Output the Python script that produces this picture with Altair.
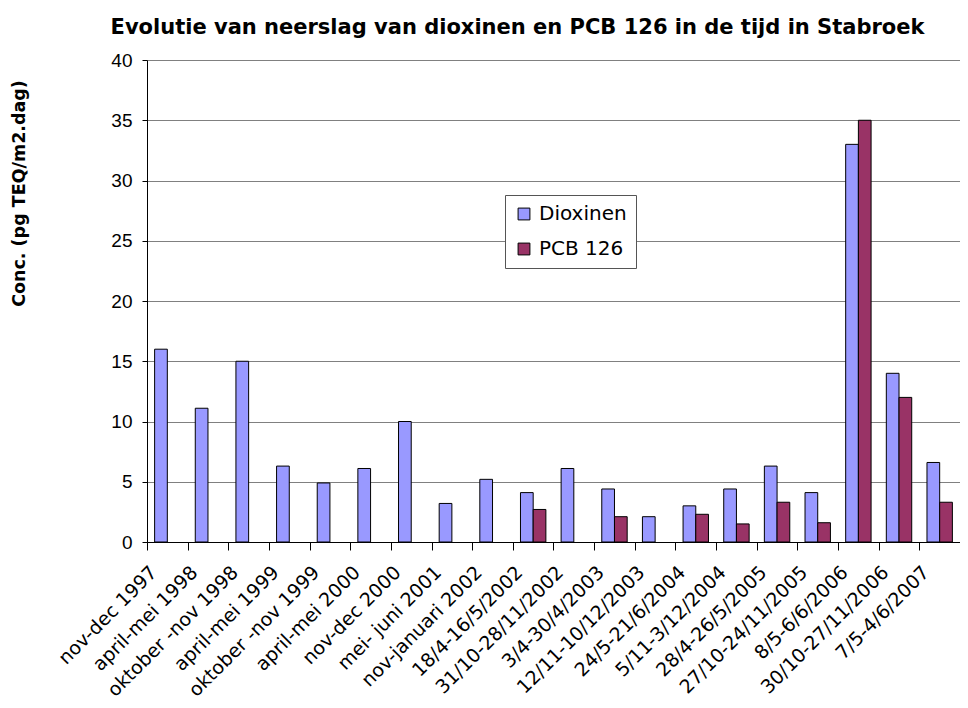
import altair as alt
import pandas as pd

categories = [
    "nov-dec 1997", "april-mei 1998", "oktober -nov 1998", "april-mei 1999",
    "oktober -nov 1999", "april-mei 2000", "nov-dec 2000", "mei- juni 2001",
    "nov-januari 2002", "18/4-16/5/2002", "31/10-28/11/2002", "3/4-30/4/2003",
    "12/11-10/12/2003", "24/5-21/6/2004", "5/11-3/12/2004", "28/4-26/5/2005",
    "27/10-24/11/2005", "8/5-6/6/2006", "30/10-27/11/2006", "7/5-4/6/2007",
]
dioxinen = [16.0, 11.1, 15.0, 6.3, 4.9, 6.1, 10.0, 3.2, 5.2, 4.1,
            6.1, 4.4, 2.1, 3.0, 4.4, 6.3, 4.1, 33.0, 14.0, 6.6]
pcb126 = [None, None, None, None, None, None, None, None, None, 2.7,
          None, 2.1, None, 2.3, 1.5, 3.3, 1.6, 35.0, 12.0, 3.3]
series = ["Dioxinen", "PCB 126"]
colors = ["#9999FF", "#993366"]

rows = []
for c, d, p in zip(categories, dioxinen, pcb126):
    if d is not None:
        rows.append({"periode": c, "reeks": series[0], "waarde": d})
    if p is not None:
        rows.append({"periode": c, "reeks": series[1], "waarde": p})
df = pd.DataFrame(rows)

FONT = "Liberation Sans"
WIDE = "DejaVu Sans"

chart = alt.Chart(df).mark_bar(stroke="black", strokeWidth=1).encode(
    x=alt.X("periode:N", sort=categories,
            scale=alt.Scale(domain=categories, paddingInner=0, paddingOuter=0),
            axis=alt.Axis(title=None, labelAngle=-45, labelAlign="right",
                          labelBaseline="middle", labelFontSize=19,
                          labelPadding=19, labelOffset=-14, tickBand="extent",
                          tickSize=8, tickColor="black", domainColor="black",
                          labelColor="black", grid=False, labelFont=WIDE)),
    xOffset=alt.XOffset("reeks:N", sort=series,
                        scale=alt.Scale(domain=series, paddingInner=0, paddingOuter=0.6)),
    y=alt.Y("waarde:Q", scale=alt.Scale(domain=[0, 40], nice=False),
            axis=alt.Axis(title="Conc. (pg TEQ/m2.dag)", values=list(range(0, 41, 5)),
                          labelFontSize=19, labelColor="black", labelPadding=10,
                          tickSize=5, tickColor="black", domainColor="black",
                          gridColor="#808080", gridWidth=1,
                          titleFontSize=17.5, titleFontWeight="bold", titleColor="black",
                          titleX=-119, titleY=133, titleFont=WIDE, labelFont=FONT)),
    color=alt.Color("reeks:N", sort=series,
                    scale=alt.Scale(domain=series, range=colors),
                    legend=alt.Legend(title=None, orient="none", legendX=358, legendY=135,
                                      symbolType="square", symbolSize=140,
                                      symbolStrokeColor="black", symbolStrokeWidth=1,
                                      labelFontSize=20, labelFont=WIDE, labelColor="black",
                                      labelOffset=5, rowPadding=15, padding=9,
                                      strokeColor="#555555", fillColor="white")),
).properties(
    width=813,
    height=482,
    title=alt.TitleParams("Evolutie van neerslag van dioxinen en PCB 126 in de tijd in Stabroek",
                          fontSize=21, font=WIDE, fontWeight="bold", color="black",
                          anchor="middle", dx=-36, offset=13),
    autosize=alt.AutoSizeParams(type="none"),
    padding={"left": 139, "top": 52, "right": 0, "bottom": 164},
).configure_view(stroke=None).configure(font=FONT)

chart.save("out.html", embed_options={"renderer": "svg", "actions": False})
